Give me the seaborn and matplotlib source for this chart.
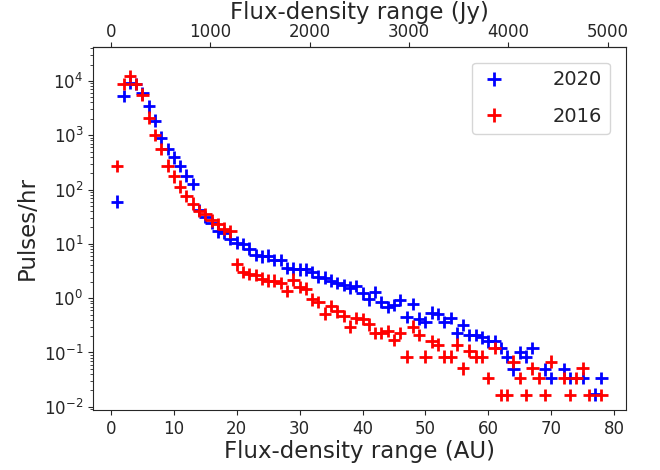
import matplotlib
matplotlib.use("Agg")
import matplotlib.pyplot as plt
import seaborn as sns
import pandas as pd

# ============================== Data ==============================
x_2020 = [1, 2, 3, 4, 5, 6, 7, 8, 9, 10, 11, 12, 13, 14, 15, 16, 17, 18, 19, 20,
          21, 22, 23, 24, 25, 26, 27, 28, 29, 30, 31, 32, 33, 34, 35, 36, 37, 38, 39, 40,
          41, 42, 43, 44, 45, 46, 47, 48, 49, 50, 51, 52, 53, 54, 55, 56, 57, 58, 59, 60,
          61, 62, 63, 64, 65, 66, 67, 69, 70, 72, 73, 75, 77, 78]
y_2020 = [60, 5200, 9300, 8700, 5900, 3400, 1850, 900, 560, 390, 270, 180, 125, 42, 31, 24, 17, 16, 12.5, 10.5,
          10, 8.2, 6.3, 5.9, 6.1, 5.1, 5.1, 3.6, 3.5, 3.4, 3.4, 3.0, 2.5, 2.4, 2.1, 1.88, 1.74, 1.57, 1.66, 1.22,
          0.95, 1.3, 0.85, 0.69, 0.74, 0.92, 0.45, 0.79, 0.42, 0.36, 0.54, 0.51, 0.36, 0.43, 0.23, 0.32, 0.21, 0.21, 0.19, 0.16,
          0.16, 0.12, 0.084, 0.049, 0.10, 0.084, 0.12, 0.049, 0.034, 0.049, 0.034, 0.034, 0.017, 0.034]

x_2016 = [1, 2, 3, 4, 5, 6, 7, 8, 9, 10, 11, 12, 13, 14, 15, 16, 17, 18, 19, 20,
          21, 22, 23, 24, 25, 26, 27, 28, 29, 30, 31, 32, 33, 34, 35, 36, 37, 38, 39, 40,
          41, 42, 43, 44, 45, 46, 47, 48, 49, 50, 51, 52, 53, 54, 55, 56, 57, 58, 59, 60,
          61, 62, 63, 64, 65, 66, 67, 68, 69, 70, 72, 73, 74, 75, 76, 78]
y_2016 = [270, 8700, 12300, 8800, 5600, 2100, 1020, 560, 275, 175, 113, 76, 55, 40, 35, 27, 23, 19, 17, 4.2,
          3.0, 2.8, 2.7, 2.3, 2.1, 2.1, 1.9, 1.36, 2.2, 1.6, 1.5, 0.95, 0.85, 0.52, 0.71, 0.57, 0.47, 0.3, 0.43, 0.41,
          0.33, 0.23, 0.23, 0.25, 0.17, 0.23, 0.084, 0.3, 0.21, 0.084, 0.16, 0.14, 0.084, 0.084, 0.14, 0.051, 0.108, 0.084, 0.084, 0.034,
          0.12, 0.0166, 0.0166, 0.068, 0.034, 0.0166, 0.051, 0.034, 0.0166, 0.068, 0.034, 0.0166, 0.034, 0.051, 0.0166, 0.0166]

years = ["2020", "2016"]
colors = {"2020": "blue", "2016": "red"}
jy_per_au = 63.3

# long-form table for seaborn
data = pd.concat([
    pd.DataFrame({"flux": x_2020, "rate": y_2020, "year": "2020"}),
    pd.DataFrame({"flux": x_2016, "rate": y_2016, "year": "2016"}),
], ignore_index=True)

# ============================== Plot ==============================
sns.set_style("ticks")
plt.rcParams["font.family"] = ["DejaVu Sans"]

fig = plt.figure(figsize=(6.6, 4.7), dpi=100)
ax = fig.add_axes([0.141, 0.128, 0.807, 0.772])

sns.scatterplot(data=data, x="flux", y="rate", hue="year", hue_order=years,
                palette=colors, marker="+", s=80, linewidth=2, ax=ax)

ax.set_yscale("log")
ax.set_ylim(0.0088, 4.2e4)
ax.set_xlabel("Flux-density range (AU)", fontsize=16.5, labelpad=2)
ax.set_ylabel("Pulses/hr", fontsize=16.5)
ax.tick_params(which="major", labelsize=12, length=3.5)
ax.tick_params(which="minor", length=2)

# top axis in Jy
top = ax.secondary_xaxis("top", functions=(lambda a: a * jy_per_au, lambda j: j / jy_per_au))
top.set_xlabel("Flux-density range (Jy)", fontsize=16.5, labelpad=3)
top.tick_params(labelsize=12, length=3.5, pad=1)

handles, labels = ax.get_legend_handles_labels()
ax.legend(handles, labels, loc="upper right", fontsize=14, frameon=True,
          handlelength=1.45, handletextpad=2.3, labelspacing=0.9,
          markerscale=1.2, borderaxespad=0.8)

fig.savefig("out.png", dpi=100)
